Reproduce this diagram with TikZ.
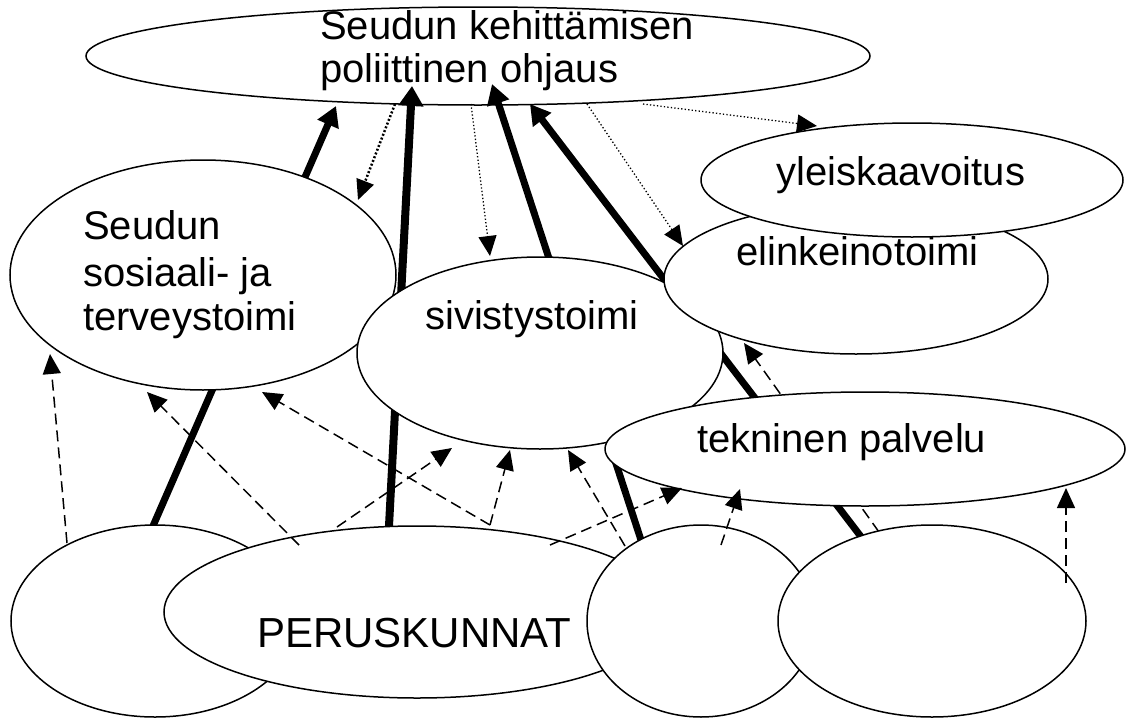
\documentclass[tikz,border=0pt]{standalone}
\usepackage{fontspec}
\setmainfont{Liberation Sans}
\usetikzlibrary{shapes.geometric,arrows.meta}
\begin{document}
\begin{tikzpicture}[x=1pt,y=-1pt,
  ell/.style={ellipse, draw=black, line width=1.5pt, fill=white, inner sep=0pt, outer sep=0pt},
  lbl/.style={anchor=base west, inner sep=0pt, font=\fontsize{40}{46}\selectfont},
  biglbl/.style={anchor=base west, inner sep=0pt, font=\fontsize{42}{48}\selectfont},
  strongarrow/.style={line width=7pt, -{Triangle[length=20pt,width=22pt]}},
  dotarrow/.style={line width=1.3pt, dash pattern=on 1.3pt off 2.2pt, -{Triangle[length=20pt,width=18pt]}},
  densedotarrow/.style={line width=2.5pt, dash pattern=on 2pt off 2pt, -{Triangle[length=20pt,width=18pt]}},
  dasharrow/.style={line width=1.5pt, dash pattern=on 11pt off 6pt, -{Triangle[length=20pt,width=18pt]}}
]
\useasboundingbox (0,0) rectangle (1128,718);

% top ellipse
\node[ell, minimum width=784pt, minimum height=98pt] (A) at (478,56) {};

% connector end points
\coordinate (t1s) at (153,526); \coordinate (t1e) at (336,106);
\coordinate (t2s) at (389,526); \coordinate (t2e) at (412,86);
\coordinate (t3s) at (641,540); \coordinate (t3e) at (492,84);
\coordinate (t4s) at (862,538); \coordinate (t4e) at (530,104);

% thick arrows (under the ellipses)
\draw[strongarrow] (t1s) -- (t1e);
\draw[line width=8pt, -{Triangle[length=20pt,width=24pt]}] (t2s) -- (t2e);
\draw[strongarrow] (t3s) -- (t3e);
\draw[strongarrow] (t4s) -- (t4e);

\node[lbl] (tA1) at (320,39) {Seudun kehittämisen};
\node[lbl] (tA2) at (320,82) {poliittinen ohjaus};

% middle ellipses
\node[ell, minimum width=386pt, minimum height=230pt] (C) at (203,275) {};
\node[ell, minimum width=366pt, minimum height=192pt] (D) at (540,353) {};
\node[ell, minimum width=384pt, minimum height=150pt] (E) at (856,279) {};
\node[ell, minimum width=422pt, minimum height=114pt] (B) at (912,180) {};

\coordinate (l18s) at (879,532); \coordinate (l18e) at (744,343);
\draw[dasharrow] (l18s) -- (l18e);

\node[ell, minimum width=520pt, minimum height=114pt] (F) at (865,449) {};

% bottom ellipses
\node[ell, minimum width=288pt, minimum height=192pt] (G1) at (155,621) {};
\node[ell, minimum width=506pt, minimum height=172pt] (G2) at (417,612) {};
\node[ell, minimum width=228pt, minimum height=192pt] (G3) at (701,621) {};
\node[ell, minimum width=308pt, minimum height=192pt] (G4) at (932,621) {};

% labels
\node[lbl] (tC1) at (83,239) {Seudun};
\node[lbl] (tC2) at (83,286) {sosiaali- ja};
\node[lbl] (tC3) at (83,330) {terveystoimi};
\node[lbl] (tD) at (425,329) {sivistystoimi};
\node[lbl] (tE) at (736,265) {elinkeinotoimi};
\node[lbl] (tB) at (776,185) {yleiskaavoitus};
\node[lbl] (tF) at (697,452) {tekninen palvelu};
\node[biglbl] (tG) at (257,647) {PERUSKUNNAT};

% dotted arrows from the top ellipse
\coordinate (d5s) at (395,104); \coordinate (d5e) at (358,200);
\coordinate (d6s) at (471,104); \coordinate (d6e) at (490,256);
\coordinate (d7s) at (587,104); \coordinate (d7e) at (683,246);
\coordinate (d8s) at (643,104); \coordinate (d8e) at (817,126);
\draw[densedotarrow] (d5s) -- (d5e);
\draw[dotarrow] (d6s) -- (d6e);
\draw[dotarrow] (d7s) -- (d7e);
\draw[dotarrow] (d8s) -- (d8e);

% dashed arrows from the bottom ellipses
\coordinate (l9s) at (67,543);   \coordinate (l9e) at (50,354);
\coordinate (l10s) at (299,545); \coordinate (l10e) at (147,392);
\coordinate (l11s) at (490,525); \coordinate (l11e) at (262,392);
\coordinate (l12e) at (510,450);
\coordinate (l13s) at (337,527); \coordinate (l13e) at (452,448);
\coordinate (l14s) at (550,545); \coordinate (l14e) at (682,488);
\coordinate (l15s) at (625,546); \coordinate (l15e) at (568,450);
\coordinate (l16s) at (721,545); \coordinate (l16e) at (740,489);
\coordinate (l17s) at (1066,583); \coordinate (l17e) at (1066,488);
\draw[dasharrow] (l9s) -- (l9e);
\draw[dasharrow] (l10s) -- (l10e);
\draw[dasharrow] (l11s) -- (l11e);
\draw[dasharrow] (l11s) -- (l12e);
\draw[dasharrow] (l13s) -- (l13e);
\draw[dasharrow] (l14s) -- (l14e);
\draw[dasharrow] (l15s) -- (l15e);
\draw[dasharrow] (l16s) -- (l16e);
\draw[dasharrow] (l17s) -- (l17e);
\end{tikzpicture}
\end{document}
